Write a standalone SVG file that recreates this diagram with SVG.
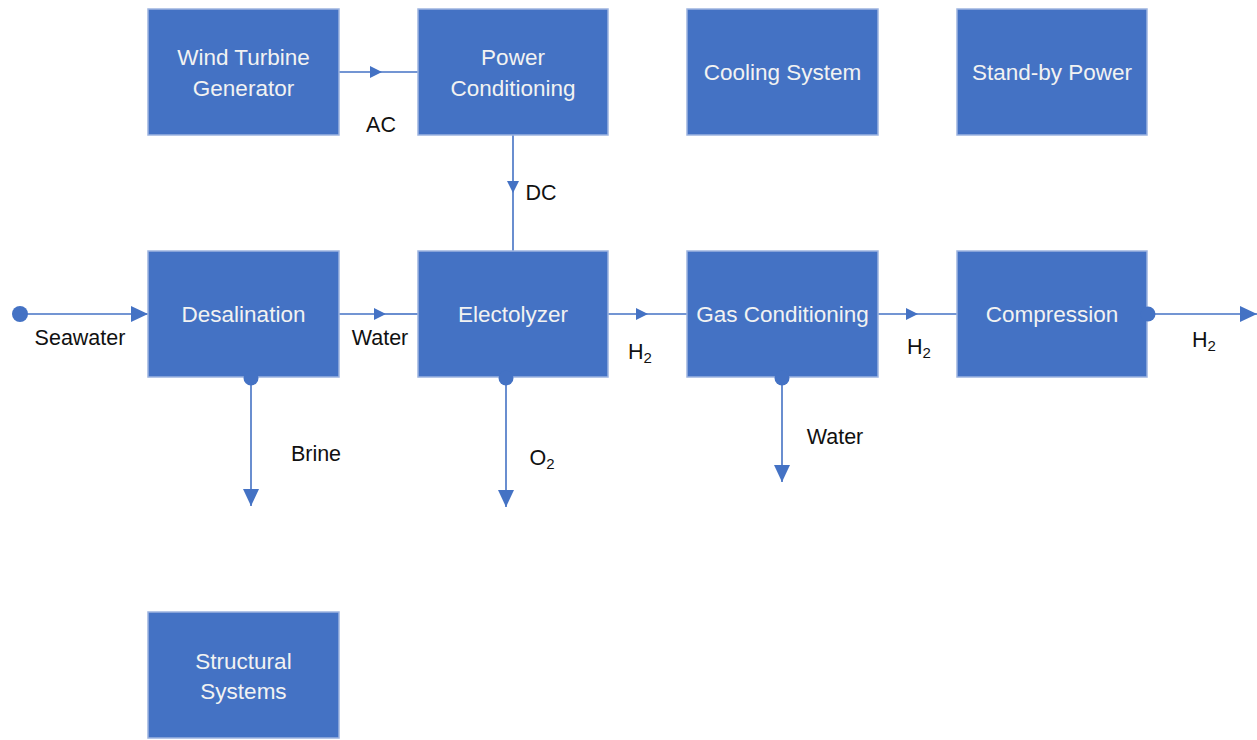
<svg xmlns="http://www.w3.org/2000/svg" width="1257" height="740" viewBox="0 0 1257 740">
<defs>
<style>
.box{fill:#4472C4;stroke:#9DB4E0;stroke-width:1.5}
.bt{fill:#F2F2F2;font-family:"Liberation Sans",Arial,sans-serif;font-size:22.5px;text-anchor:middle}
.lb{fill:#111;font-family:"Liberation Sans",Arial,sans-serif;font-size:21.5px;text-anchor:middle}
.ln{stroke:#4472C4;stroke-width:1.6;fill:none}
.dot{fill:#4472C4}
</style>
<marker id="a" viewBox="0 0 12 12" refX="12" refY="6" markerWidth="12" markerHeight="12" markerUnits="userSpaceOnUse" orient="auto"><path d="M0,0L12,6L0,12Z" fill="#4472C4"/></marker>
<marker id="b" viewBox="0 0 17 16" refX="17" refY="8" markerWidth="17" markerHeight="16" markerUnits="userSpaceOnUse" orient="auto"><path d="M0,0L17,8L0,16Z" fill="#4472C4"/></marker>
</defs>
<rect width="1257" height="740" fill="#fff"/>
<g id="connectors">
<circle class="dot" cx="20" cy="314" r="8"/>
<path class="ln" d="M20,314H148" marker-end="url(#b)"/>
<path class="ln" d="M339,72H382" marker-end="url(#a)"/><path class="ln" d="M382,72H418"/>
<path class="ln" d="M513,135V193" marker-end="url(#a)"/><path class="ln" d="M513,193V251"/>
<path class="ln" d="M339,314H386" marker-end="url(#a)"/><path class="ln" d="M386,314H418"/>
<path class="ln" d="M608,314H648" marker-end="url(#a)"/><path class="ln" d="M648,314H687"/>
<path class="ln" d="M878,314H918" marker-end="url(#a)"/><path class="ln" d="M918,314H957"/>
<path class="ln" d="M1148,314H1257" marker-end="url(#b)"/>
<path class="ln" d="M251,378V506" marker-end="url(#b)"/>
<path class="ln" d="M506,378V507" marker-end="url(#b)"/>
<path class="ln" d="M782,378V482" marker-end="url(#b)"/>
</g>
<g id="n-wind"><rect class="box" x="148" y="9" width="191" height="126"/><text class="bt" x="243.5" y="65">Wind Turbine</text><text class="bt" x="243.5" y="96">Generator</text></g>
<g id="n-power"><rect class="box" x="418" y="9" width="190" height="126"/><text class="bt" x="513" y="65">Power</text><text class="bt" x="513" y="96">Conditioning</text></g>
<g id="n-cooling"><rect class="box" x="687" y="9" width="191" height="126"/><text class="bt" x="782.5" y="80">Cooling System</text></g>
<g id="n-standby"><rect class="box" x="957" y="9" width="190" height="126"/><text class="bt" x="1052" y="80">Stand-by Power</text></g>
<g id="n-desal"><rect class="box" x="148" y="251" width="191" height="126"/><text class="bt" x="243.5" y="322">Desalination</text></g>
<g id="n-electro"><rect class="box" x="418" y="251" width="190" height="126"/><text class="bt" x="513" y="322">Electolyzer</text></g>
<g id="n-gas"><rect class="box" x="687" y="251" width="191" height="126"/><text class="bt" x="782.5" y="322">Gas Conditioning</text></g>
<g id="n-comp"><rect class="box" x="957" y="251" width="190" height="126"/><text class="bt" x="1052" y="322">Compression</text></g>
<g id="n-struct"><rect class="box" x="148" y="612" width="191" height="126"/><text class="bt" x="243.5" y="669">Structural</text><text class="bt" x="243.5" y="699">Systems</text></g>
<g id="dots">
<circle class="dot" cx="251" cy="378" r="7.5"/>
<circle class="dot" cx="506" cy="378" r="7.5"/>
<circle class="dot" cx="782" cy="378" r="7.5"/>
<circle class="dot" cx="1148" cy="314" r="7.5"/>
</g>
<g id="labels">
<text class="lb" x="80" y="345">Seawater</text>
<text class="lb" x="381" y="132">AC</text>
<text class="lb" x="541" y="200">DC</text>
<text class="lb" x="380" y="345">Water</text>
<text class="lb" x="640" y="359">H<tspan font-size="15" dy="4">2</tspan></text>
<text class="lb" x="919" y="354">H<tspan font-size="15" dy="4">2</tspan></text>
<text class="lb" x="1204" y="347">H<tspan font-size="15" dy="4">2</tspan></text>
<text class="lb" x="316" y="461">Brine</text>
<text class="lb" x="542" y="465">O<tspan font-size="15" dy="4">2</tspan></text>
<text class="lb" x="835" y="444">Water</text>
</g>
</svg>
